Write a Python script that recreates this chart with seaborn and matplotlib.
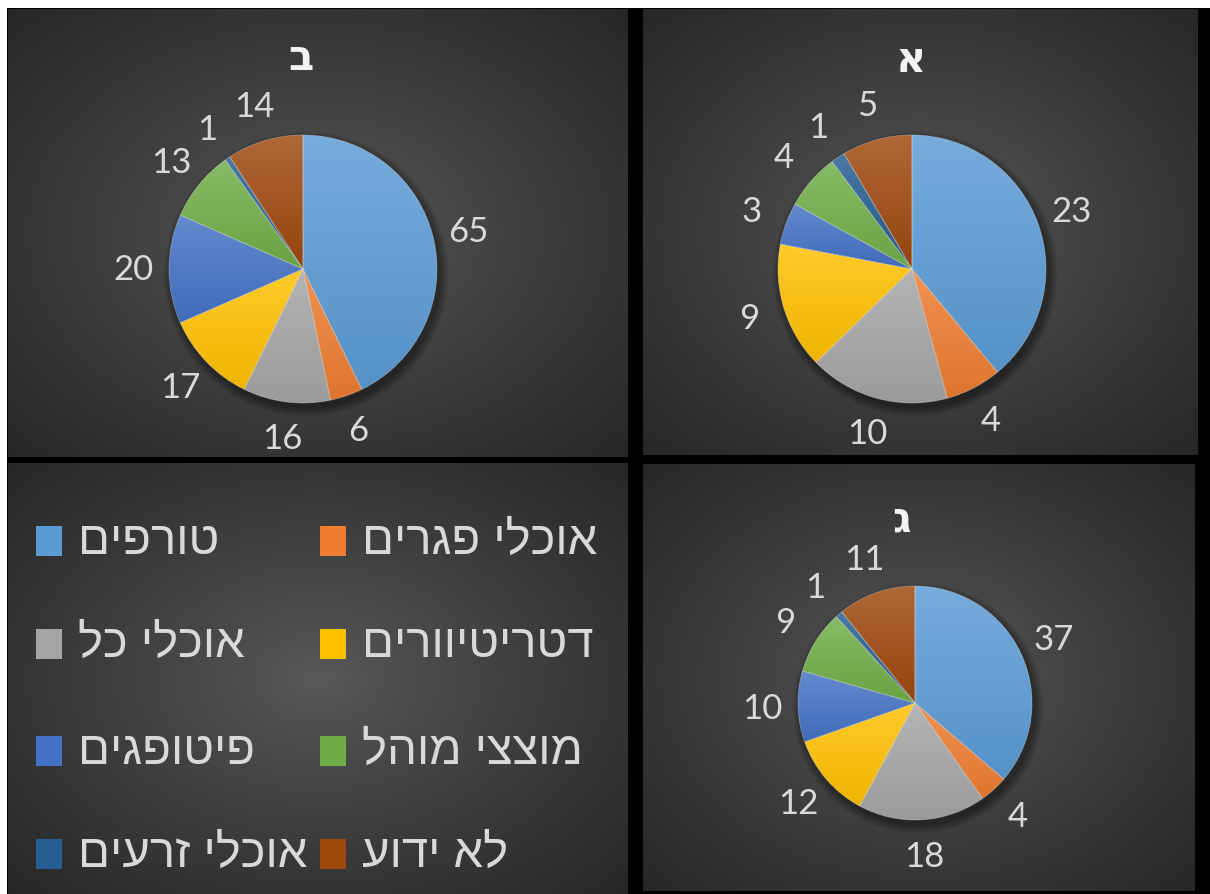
import numpy as np
import matplotlib
matplotlib.use("Agg")
import matplotlib.pyplot as plt
from matplotlib.patches import Rectangle, Circle
from matplotlib.colors import to_rgb
import seaborn as sns

# Feeding-guild categories and their colours
categories = ["טורפים", "אוכלי פגרים", "אוכלי כל", "דטריטיוורים",
              "פיטופגים", "מוצצי מוהל", "אוכלי זרעים", "לא ידוע"]
colors = ["#5B9BD5", "#ED7D31", "#A5A5A5", "#FFC000",
          "#4472C4", "#70AD47", "#255E91", "#9E480E"]

# Counts per site
values_alef = [23, 4, 10, 9, 3, 4, 1, 5]
values_bet = [65, 6, 16, 17, 20, 13, 1, 14]
values_gimel = [37, 4, 18, 12, 10, 9, 1, 11]
titles = ["א", "ב", "ג"]

sns.set_theme(style="dark")
plt.rcParams["font.family"] = ["Liberation Sans", "DejaVu Sans"]
palette = sns.color_palette(colors)

W, H = 1210, 895
fig = plt.figure(figsize=(W / 100, H / 100), dpi=100)
fig.patch.set_facecolor("black")

# white margins along top and left edge
fig.add_artist(Rectangle((0, 1 - 9 / H), 1, 9 / H, transform=fig.transFigure,
                         facecolor="white", edgecolor="none"))
fig.add_artist(Rectangle((0, 0), 7 / W, 1, transform=fig.transFigure,
                         facecolor="white", edgecolor="none"))


def rtl(s):
    return s[::-1]


def mix(c, other, t):
    c = np.array(to_rgb(c))
    o = np.array(to_rgb(other))
    return c + (o - c) * t


def panel(x0, y0, x1, y1):
    """Axes in pixel units with a radial grey gradient background."""
    w, h = x1 - x0, y1 - y0
    ax = fig.add_axes([x0 / W, 1 - y1 / H, w / W, h / H])
    yy, xx = np.mgrid[0:1:240j, 0:1:240j]
    d = np.sqrt((xx - 0.5) ** 2 + (yy - 0.5) ** 2) / np.sqrt(0.5)
    c0, c1 = 0x5a / 255, 0x27 / 255
    g = c0 + (c1 - c0) * np.clip(d, 0, 1) ** 0.85
    ax.imshow(np.dstack([g, g, g]), extent=(0, w, 0, h), origin="lower",
              aspect="auto", zorder=0, interpolation="bilinear")
    return ax, w, h


def finish(ax, w, h):
    ax.set_xlim(0, w)
    ax.set_ylim(0, h)
    ax.set_aspect("auto")
    ax.axis("off")


def draw_pie(ax, w, h, values, cx, cy, r, title, tx, ty):
    # soft drop shadow
    for i in range(8):
        ax.add_patch(Circle((cx + 3, cy - 5), r + 0.5 + i * 1.1, facecolor="black",
                            alpha=0.05, lw=0, zorder=1))
    wedges, texts = ax.pie(
        values, colors=palette, startangle=90, counterclock=False,
        center=(cx, cy), radius=r, labels=[str(v) for v in values],
        labeldistance=(r + 36) / r, frame=True,
        textprops=dict(color="#d9d9d9", fontsize=25, family=["Lato", "DejaVu Sans"]),
        wedgeprops=dict(linewidth=0.6, edgecolor=(1, 1, 1, 0.3)),
    )
    for t in texts:
        t.set_ha("center")
        t.set_va("center")
    # vertical light-to-dark shading inside each slice
    for wdg, col in zip(wedges, palette):
        ts = np.deg2rad(np.linspace(wdg.theta1, wdg.theta2, 120))
        xs = np.concatenate([[cx], cx + r * np.cos(ts)])
        ys = np.concatenate([[cy], cy + r * np.sin(ts)])
        top = mix(col, "white", 0.17)
        bot = mix(col, "black", 0.06)
        grad = np.linspace(0, 1, 64)[:, None, None]
        img = bot + (top - bot) * grad
        im = ax.imshow(img, extent=(xs.min(), xs.max(), ys.min(), ys.max()),
                       origin="lower", aspect="auto", zorder=2,
                       interpolation="bilinear")
        im.set_clip_path(wdg)
        wdg.set_facecolor("none")
        wdg.set_zorder(3)
    ax.text(tx, ty, title, ha="center", va="center", fontsize=30,
            fontweight="bold", color="#f2f2f2", family=["DejaVu Sans"])
    finish(ax, w, h)


# site ב (top left)
ax_b, wb, hb = panel(8, 10, 628, 458)
draw_pie(ax_b, wb, hb, values_bet, 295, 188, 134, titles[1], 293, 400)

# site א (top right)
ax_a, wa, ha = panel(643, 10, 1197, 456)
draw_pie(ax_a, wa, ha, values_alef, 269, 186, 134, titles[0], 268, 396)

# site ג (bottom right)
ax_g, wg, hg = panel(643, 465, 1195, 892)
draw_pie(ax_g, wg, hg, values_gimel, 272, 188, 117, titles[2], 259, 372)

# legend panel (bottom left)
ax_l, wl, hl = panel(8, 464, 628, 895)
row_y = [353, 250, 143, 40]
col_x = [28, 312]
order = [[0, 2, 4, 6], [1, 3, 5, 7]]
for ci, idxs in enumerate(order):
    for ri, k in enumerate(idxs):
        x, y = col_x[ci], row_y[ri]
        ax_l.add_patch(Rectangle((x, y - 15), 26, 30, facecolor=palette[k],
                                 edgecolor="none", zorder=2))
        ax_l.text(x + 42, y, rtl(categories[k]), ha="left", va="center",
                  fontsize=34, color="#d9d9d9", zorder=3)
finish(ax_l, wl, hl)

fig.savefig("out.png", dpi=100, facecolor=fig.get_facecolor())
